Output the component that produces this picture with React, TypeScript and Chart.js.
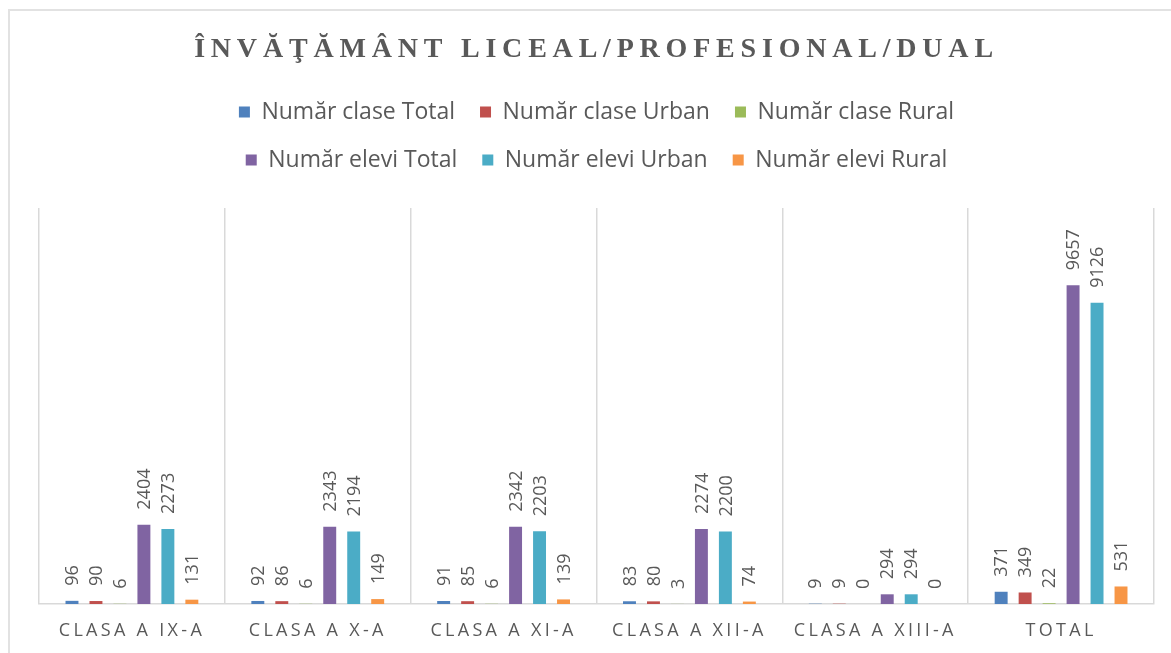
import React, { useEffect, useRef } from "react";
import { Chart, registerables } from "chart.js";

Chart.register(...registerables);

const titleText = "ÎNVĂŢĂMÂNT LICEAL/PROFESIONAL/DUAL";
const categories = ["CLASA A IX-A", "CLASA A X-A", "CLASA A XI-A", "CLASA A XII-A", "CLASA A XIII-A", "TOTAL"];
const seriesNames = [
  "Număr clase Total",
  "Număr clase Urban",
  "Număr clase Rural",
  "Număr elevi Total",
  "Număr elevi Urban",
  "Număr elevi Rural",
];
const claseTotal = [96, 92, 91, 83, 9, 371];
const claseUrban = [90, 86, 85, 80, 9, 349];
const claseRural = [6, 6, 6, 3, 0, 22];
const eleviTotal = [2404, 2343, 2342, 2274, 294, 9657];
const eleviUrban = [2273, 2194, 2203, 2200, 294, 9126];
const eleviRural = [131, 149, 139, 74, 0, 531];
const seriesColors = ["#4F81BD", "#C0504D", "#9BBB59", "#8064A2", "#4BACC6", "#F79646"];

const GRAY = "#595959";
const GRID = "#d9d9d9";

const patchPlugin = {
  id: "patches",
  beforeLayout(chart: any) {
    const lg = chart.legend;
    if (lg && !lg._patched) {
      const orig = lg.update.bind(lg);
      lg.update = (w: number, h: number, m: any) => orig(Math.min(w, 860), h, m);
      lg._patched = true;
    }
  },
  beforeDraw(chart: any) {
    const t = chart.titleBlock;
    if (t && !t._patched) {
      const orig = t.draw.bind(t);
      t.draw = (...args: any[]) => {
        const ctx = chart.ctx;
        ctx.save();
        (ctx as any).letterSpacing = "5.8px";
        orig(...args);
        ctx.restore();
      };
      t._patched = true;
    }
    const xs = chart.scales.x;
    if (xs && !xs._patched) {
      const orig = xs.drawLabels.bind(xs);
      xs.drawLabels = (...args: any[]) => {
        const ctx = chart.ctx;
        ctx.save();
        (ctx as any).letterSpacing = "3.3px";
        orig(...args);
        ctx.restore();
      };
      xs._patched = true;
    }
  },
  afterDatasetsDraw(chart: any) {
    const ctx = chart.ctx;
    ctx.save();
    ctx.fillStyle = GRAY;
    ctx.font = "18px 'Open Sans'";
    ctx.textAlign = "left";
    ctx.textBaseline = "middle";
    chart.data.datasets.forEach((ds: any, di: number) => {
      const meta = chart.getDatasetMeta(di);
      meta.data.forEach((el: any, i: number) => {
        ctx.save();
        ctx.translate(el.x + 1, el.y - 15);
        ctx.rotate(-Math.PI / 2);
        ctx.fillText(String(ds.data[i]), 0, 0);
        ctx.restore();
      });
    });
    ctx.restore();
  },
};

export default function App() {
  const ref = useRef<HTMLCanvasElement | null>(null);

  useEffect(() => {
    document.body.style.margin = "0";
    document.body.style.background = "#ffffff";
    const seriesData = [claseTotal, claseUrban, claseRural, eleviTotal, eleviUrban, eleviRural];
    const chart = new Chart(ref.current as HTMLCanvasElement, {
      type: "bar",
      data: {
        labels: categories,
        datasets: seriesNames.map((name, i) => ({
          label: name,
          data: seriesData[i],
          backgroundColor: seriesColors[i],
          borderWidth: 0,
          xAxisID: "x",
          yAxisID: "y",
          categoryPercentage: 0.774,
          barPercentage: 0.54,
        })),
      },
      options: {
        responsive: false,
        animation: false,
        devicePixelRatio: 1,
        layout: { padding: { left: 39, right: 17, top: 0, bottom: 0 } },
        plugins: {
          tooltip: { enabled: false },
          title: {
            display: true,
            text: titleText,
            color: GRAY,
            fullSize: false,
            font: { family: "'Liberation Serif'", size: 28, weight: "bold", lineHeight: 1.2 },
            padding: { top: 33.2, bottom: 8.7 },
          },
          legend: {
            display: true,
            position: "top",
            fullSize: false,
            labels: {
              color: GRAY,
              font: { family: "'Open Sans'", size: 23 },
              boxWidth: 11,
              boxHeight: 11,
              padding: 25,
            },
          },
        },
        scales: {
          x: {
            type: "category",
            position: "bottom",
            offset: true,
            grid: { display: true, offset: true, color: GRID, lineWidth: 1.5, drawTicks: false },
            border: { display: true, color: GRID, width: 1.5 },
            ticks: {
              color: GRAY,
              font: { family: "'Open Sans'", size: 18 },
              padding: 16,
              autoSkip: false,
              maxRotation: 0,
              minRotation: 0,
            },
            afterFit: (s: any) => {
              s.height = 49;
            },
          },
          xTop: {
            type: "category",
            axis: "x",
            position: "top",
            display: true,
            grid: { display: false },
            border: { display: false },
            ticks: { display: false },
            afterFit: (s: any) => {
              s.height = 26.5;
            },
          },
          y: {
            display: false,
            min: 0,
            max: 12000,
          },
        },
      } as any,
      plugins: [patchPlugin as any],
    });
    return () => chart.destroy();
  }, []);

  return (
    <div style={{ position: "relative", width: 1171, height: 653, overflow: "hidden", background: "#fff" }}>
      <div
        style={{
          position: "absolute",
          left: 8,
          top: 9,
          width: 1300,
          height: 800,
          border: "2px solid #e2e2e2",
          boxSizing: "border-box",
        }}
      />
      <canvas ref={ref} width={1171} height={653} style={{ position: "absolute", left: 0, top: 0, display: "block" }} />
    </div>
  );
}
